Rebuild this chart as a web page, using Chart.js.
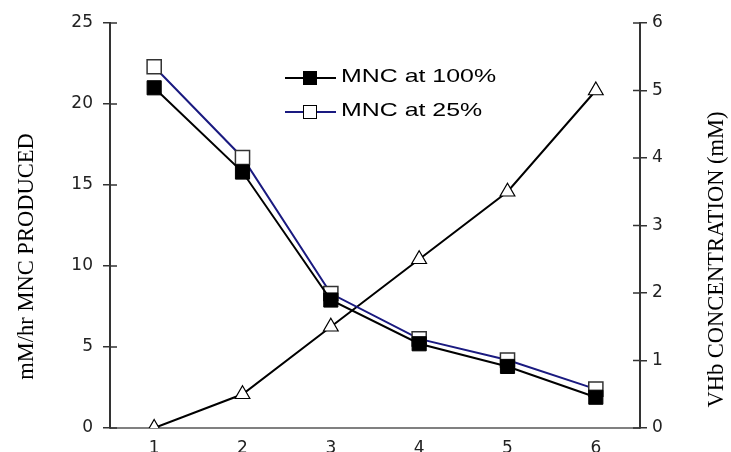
<!DOCTYPE html>
<html>
<head>
<meta charset="utf-8">
<script src="https://cdn.jsdelivr.net/npm/chart.js@4.4.1/dist/chart.umd.min.js"></script>
<style>
  html, body { margin: 0; padding: 0; background: #fff; overflow: hidden; }
  #wrap { position: relative; width: 731px; height: 452px; overflow: hidden; }
  #chart { position: absolute; left: 0; top: 0; }
  .leg { position: absolute; left: 285px; height: 20px; }
  .leg .ln { position: absolute; left: 0; top: 9px; width: 51px; height: 2px; }
  .leg .mk { position: absolute; left: 18px; top: 3px; width: 12px; height: 12px; border: 1px solid #000; }
  .leg .tx { position: absolute; left: 56px; top: -3px; font: 18.6px "Liberation Sans", Arial, sans-serif; color: #000;
             white-space: nowrap; transform: scaleX(1.34); transform-origin: left center; }
</style>
</head>
<body>
<div id="wrap">
  <canvas id="chart" width="731" height="470"></canvas>
  <div class="leg" style="top:68px">
    <div class="ln" style="background:#000"></div>
    <div class="mk" style="background:#000"></div>
    <div class="tx">MNC at 100%</div>
  </div>
  <div class="leg" style="top:102px">
    <div class="ln" style="background:#1a1a80"></div>
    <div class="mk" style="background:#fff"></div>
    <div class="tx">MNC at 25%</div>
  </div>
</div>
<script>
const categories = ["1", "2", "3", "4", "5", "6"];
const mnc100 = [21.0, 15.8, 7.9, 5.2, 3.8, 1.9];
const mnc25 = [22.3, 16.7, 8.3, 5.5, 4.2, 2.4];
const vhb = [0, 0.5, 1.5, 2.5, 3.5, 5.0];
const leftTicks = [0, 5, 10, 15, 20, 25];
const rightTicks = [0, 1, 2, 3, 4, 5, 6];

const tickFont = { family: "'DejaVu Sans', sans-serif", size: 17 };

// crossing tick marks on both y axes + rotated axis titles
const axisExtras = {
    id: "axisExtras",
    afterDraw(chart) {
        const ctx = chart.ctx;
        const { y, y1 } = chart.scales;
        ctx.save();
        ctx.strokeStyle = "#333";
        ctx.lineWidth = 1.5;
        ctx.beginPath();
        y.ticks.forEach((t, i) => {
            const p = y.getPixelForTick(i);
            ctx.moveTo(y.right, p); ctx.lineTo(y.right + 7, p);
        });
        y1.ticks.forEach((t, i) => {
            const p = y1.getPixelForTick(i);
            ctx.moveTo(y1.left - 7, p); ctx.lineTo(y1.left, p);
        });
        ctx.stroke();

        ctx.fillStyle = "#000";
        ctx.font = "22.5px 'Liberation Serif', 'Times New Roman', serif";
        ctx.textAlign = "center";
        ctx.textBaseline = "middle";
        const mid = (chart.chartArea.top + chart.chartArea.bottom) / 2;
        ctx.save();
        ctx.translate(27, mid + 31);
        ctx.rotate(-Math.PI / 2);
        ctx.fillText("mM/hr MNC PRODUCED", 0, 0);
        ctx.restore();
        ctx.save();
        ctx.translate(717, mid + 34);
        ctx.rotate(-Math.PI / 2);
        ctx.fillText("VHb CONCENTRATION (mM)", 0, 0);
        ctx.restore();
        ctx.restore();
    }
};

new Chart(document.getElementById("chart"), {
    type: "line",
    data: {
        labels: categories,
        datasets: [
            {
                label: "MNC at 100%", data: mnc100, yAxisID: "y",
                borderColor: "#000", borderWidth: 2,
                pointStyle: "rect", pointRadius: 10, pointBackgroundColor: "#000",
                pointBorderColor: "#000", pointBorderWidth: 1
            },
            {
                label: "MNC at 25%", data: mnc25, yAxisID: "y",
                borderColor: "#1a1a80", borderWidth: 2,
                pointStyle: "rect", pointRadius: 10, pointBackgroundColor: "#fff",
                pointBorderColor: "#333", pointBorderWidth: 1.5
            },
            {
                label: "VHb", data: vhb, yAxisID: "y1",
                borderColor: "#000", borderWidth: 2,
                pointStyle: "triangle", pointRadius: 8.5, pointBackgroundColor: "#fff",
                pointBorderColor: "#000", pointBorderWidth: 1.2
            }
        ]
    },
    options: {
        responsive: false,
        animation: false,
        layout: { padding: { top: 23, right: 0, left: 0, bottom: 0 } },
        plugins: { legend: { display: false }, tooltip: { enabled: false } },
        scales: {
            x: {
                offset: true,
                grid: { display: false, drawTicks: false },
                border: { color: "#808080", width: 2 },
                ticks: { color: "#222", font: tickFont, padding: 10 },
                afterFit: (s) => { s.height = 42; }
            },
            y: {
                position: "left", min: 0, max: 25,
                afterBuildTicks: (s) => { s.ticks = leftTicks.map(v => ({ value: v })); },
                grid: { drawOnChartArea: false, tickLength: 7, color: "#333", lineWidth: 1.5 },
                border: { color: "#333", width: 2 },
                ticks: { color: "#222", font: tickFont, padding: 10 },
                afterFit: (s) => { s.width = 110; }
            },
            y1: {
                position: "right", min: 0, max: 6,
                afterBuildTicks: (s) => { s.ticks = rightTicks.map(v => ({ value: v })); },
                grid: { drawOnChartArea: false, tickLength: 7, color: "#333", lineWidth: 1.5 },
                border: { color: "#333", width: 2 },
                ticks: { color: "#222", font: tickFont, padding: 5 },
                afterFit: (s) => { s.width = 91; }
            }
        }
    },
    plugins: [axisExtras]
});
</script>
</body>
</html>
